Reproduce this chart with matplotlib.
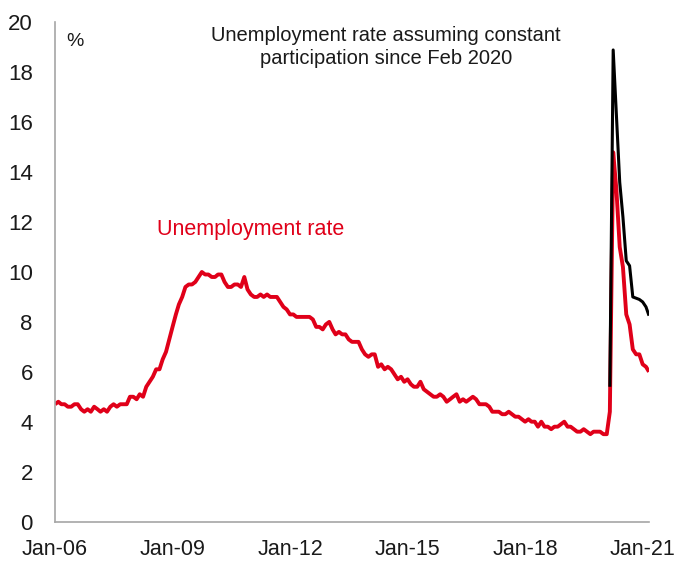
import matplotlib
matplotlib.use("Agg")
import matplotlib.pyplot as plt
import pandas as pd
import numpy as np

plt.rcParams['font.family'] = ['Liberation Sans', 'DejaVu Sans']

# Monthly unemployment rate, Jan 2006 - Mar 2021 (%)
unemp_2006 = [4.7, 4.8, 4.7, 4.7, 4.6, 4.6, 4.7, 4.7, 4.5, 4.4, 4.5, 4.4]
unemp_2007 = [4.6, 4.5, 4.4, 4.5, 4.4, 4.6, 4.7, 4.6, 4.7, 4.7, 4.7, 5.0]
unemp_2008 = [5.0, 4.9, 5.1, 5.0, 5.4, 5.6, 5.8, 6.1, 6.1, 6.5, 6.8, 7.3]
unemp_2009 = [7.8, 8.3, 8.7, 9.0, 9.4, 9.5, 9.5, 9.6, 9.8, 10.0, 9.9, 9.9]
unemp_2010 = [9.8, 9.8, 9.9, 9.9, 9.6, 9.4, 9.4, 9.5, 9.5, 9.4, 9.8, 9.3]
unemp_2011 = [9.1, 9.0, 9.0, 9.1, 9.0, 9.1, 9.0, 9.0, 9.0, 8.8, 8.6, 8.5]
unemp_2012 = [8.3, 8.3, 8.2, 8.2, 8.2, 8.2, 8.2, 8.1, 7.8, 7.8, 7.7, 7.9]
unemp_2013 = [8.0, 7.7, 7.5, 7.6, 7.5, 7.5, 7.3, 7.2, 7.2, 7.2, 6.9, 6.7]
unemp_2014 = [6.6, 6.7, 6.7, 6.2, 6.3, 6.1, 6.2, 6.1, 5.9, 5.7, 5.8, 5.6]
unemp_2015 = [5.7, 5.5, 5.4, 5.4, 5.6, 5.3, 5.2, 5.1, 5.0, 5.0, 5.1, 5.0]
unemp_2016 = [4.8, 4.9, 5.0, 5.1, 4.8, 4.9, 4.8, 4.9, 5.0, 4.9, 4.7, 4.7]
unemp_2017 = [4.7, 4.6, 4.4, 4.4, 4.4, 4.3, 4.3, 4.4, 4.3, 4.2, 4.2, 4.1]
unemp_2018 = [4.0, 4.1, 4.0, 4.0, 3.8, 4.0, 3.8, 3.8, 3.7, 3.8, 3.8, 3.9]
unemp_2019 = [4.0, 3.8, 3.8, 3.7, 3.6, 3.6, 3.7, 3.6, 3.5, 3.6, 3.6, 3.6]
unemp_2020 = [3.5, 3.5, 4.4, 14.8, 13.3, 11.0, 10.2, 8.3, 7.9, 6.9, 6.7, 6.7]
unemp_2021 = [6.3, 6.2, 6.0]

# Unemployment rate assuming constant participation, Mar 2020 - Mar 2021 (%)
const_part = [5.4, 18.9, 16.3, 13.6, 12.2, 10.45, 10.25, 9.0, 8.95, 8.9, 8.8, 8.6, 8.25]

unemp = (unemp_2006 + unemp_2007 + unemp_2008 + unemp_2009 + unemp_2010 + unemp_2011
         + unemp_2012 + unemp_2013 + unemp_2014 + unemp_2015 + unemp_2016 + unemp_2017
         + unemp_2018 + unemp_2019 + unemp_2020 + unemp_2021)
dates = pd.date_range("2006-01-01", periods=len(unemp), freq="MS")
dates_cp = pd.date_range("2020-03-01", periods=len(const_part), freq="MS")

tick_years = [2006, 2009, 2012, 2015, 2018, 2021]
tick_labels = ["Jan-06", "Jan-09", "Jan-12", "Jan-15", "Jan-18", "Jan-21"]

RED = "#E00019"
TXT = "#1a1a1a"

fig = plt.figure(figsize=(6.75, 5.61), dpi=100)
ax = fig.add_axes([55/675, 1 - 521.5/561, (649-55)/675, (521.5-22.5)/561])

ax.plot(dates, unemp, color=RED, lw=2.8, solid_joinstyle="round", solid_capstyle="butt", zorder=2)
ax.plot(dates_cp, const_part, color="black", lw=2.2, solid_joinstyle="round", solid_capstyle="butt", zorder=3)

ax.set_xlim(dates[0], dates[-1])
ax.set_ylim(0, 20)
ax.set_yticks(np.arange(0, 21, 2))
ax.set_xticks([pd.Timestamp(f"{y}-01-01") for y in tick_years])
ax.set_xticklabels(tick_labels)

for s in ["top", "right"]:
    ax.spines[s].set_visible(False)
for s in ["left", "bottom"]:
    ax.spines[s].set_color("#A6A6A6")
    ax.spines[s].set_linewidth(1.2)
ax.tick_params(axis="both", length=0, labelsize=16, colors=TXT)
ax.tick_params(axis="y", pad=16)
ax.tick_params(axis="x", labelsize=15.5, pad=12.5)

ax.text(0.019, 0.978, "%", transform=ax.transAxes, fontsize=14, va="top", ha="left", color=TXT)
ax.text(0.557, 0.993, "Unemployment rate assuming constant\nparticipation since Feb 2020",
        transform=ax.transAxes, fontsize=14.5, ha="center", va="top", color=TXT, linespacing=1.3)
ax.text(0.172, 0.585, "Unemployment rate", transform=ax.transAxes, fontsize=15.5,
        ha="left", va="center", color=RED)

fig.savefig("out.png", dpi=100)
